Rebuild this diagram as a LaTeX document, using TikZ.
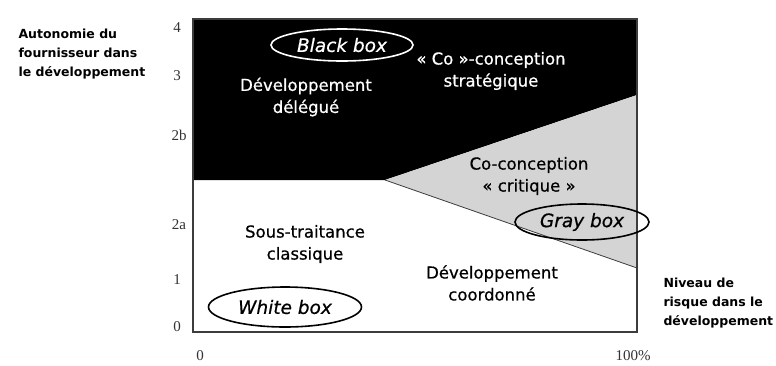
\documentclass[tikz,border=0pt]{standalone}
\usepackage{fontspec}
\setmainfont{DejaVu Sans}
\newfontfamily\zonefont[FakeBold=0.6]{DejaVu Sans}
\newfontfamily\tickfont{Liberation Serif}
\usetikzlibrary{shapes.geometric, positioning}
\definecolor{zonegray}{RGB}{212,212,212}
\definecolor{framegray}{RGB}{60,60,60}
\definecolor{ticktext}{RGB}{50,50,50}
\tikzset{
  zone/.style={align=center, font=\fontsize{16.5}{22}\selectfont\zonefont},
  axlbl/.style={align=left, anchor=north west, font=\fontsize{12.5}{19}\selectfont\bfseries},
  tick/.style={font=\fontsize{15}{15}\selectfont\tickfont, text=ticktext},
  boxtag/.style={ellipse, draw=#1, line width=1.6pt, inner sep=0pt,
                 font=\fontsize{18.5}{18.5}\selectfont\zonefont\itshape},
}

\begin{document}
\begin{tikzpicture}[x=1pt, y=-1pt]
  \useasboundingbox (0,0) rectangle (776,365);

  % corners of the chart
  \coordinate (tl) at (193,19);
  \coordinate (br) at (637,332);
  \coordinate (split) at (385,180);
  \coordinate (hi) at (637,95);
  \coordinate (lo) at (637,268);

  % zones
  \fill[black] (tl) -- (637,19) -- (hi) -- (split) -- (193,180) -- cycle;
  \fill[zonegray] (split) -- (hi) -- (lo) -- cycle;
  \draw[framegray, line width=0.8pt] (split) -- (lo);
  \draw[framegray, line width=1.5pt] (tl) rectangle (br);

  % zone labels
  \node[zone, text=white] (deleg) at (306,97) {Développement\\délégué};
  \node[zone, text=white] (strat) at (491,71) {« Co »-conception\\stratégique};
  \node[zone] (crit) at (529,176) {Co-conception\\« critique »};
  \node[zone] (soustr) at (305,244) {Sous-traitance\\classique};
  \node[zone] (coord) at (492,283) {Développement\\coordonné};

  % box tags
  \node[boxtag=white, text=white, minimum width=142pt, minimum height=32pt] (black) at (342,45) {Black box};
  \node[boxtag=black, minimum width=134pt, minimum height=36pt] (gray) at (582,222) {Gray box};
  \node[boxtag=black, minimum width=153pt, minimum height=40pt] (white) at (285,307) {White box};

  % axis titles
  \node[axlbl] (yaxis) at (15,25) {Autonomie du\\fournisseur dans\\le développement};
  \node[axlbl] (xaxis) at (660,274) {Niveau de\\risque dans le\\développement};

  % ticks
  \node[tick] (t4) at (177,28) {4};
  \node[tick] (t3) at (177,76) {3};
  \node[tick] (t2b) at (179,135) {2b};
  \node[tick] (t2a) at (179,225) {2a};
  \node[tick] (t1) at (177,280) {1};
  \node[tick] (t0) at (177,327) {0};
  \node[tick] (x0) at (200,356) {0};
  \node[tick] (x100) at (633,356) {100\%};
\end{tikzpicture}
\end{document}
